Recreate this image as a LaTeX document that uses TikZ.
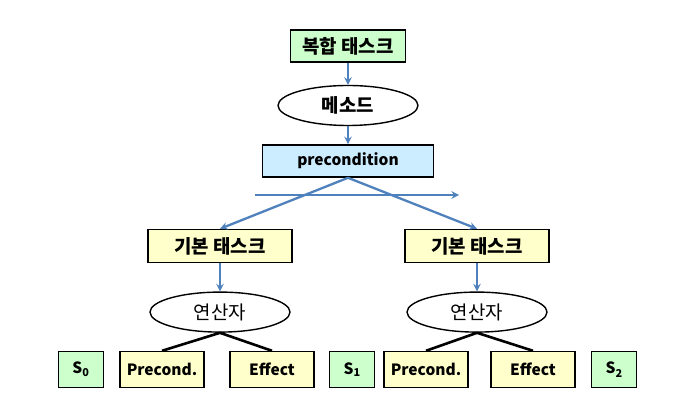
\documentclass[tikz,border=0pt]{standalone}
\usepackage{fontspec}
\setmainfont{Noto Sans CJK KR}
\newfontfamily\kor{Noto Sans CJK KR}[Scale=1.22]
\usepackage{tikz}
\usetikzlibrary{positioning}
\usetikzlibrary{shapes.geometric}
\definecolor{boxgreen}{HTML}{CCFFCC}
\definecolor{boxblue}{HTML}{CCECFF}
\definecolor{boxyellow}{HTML}{FFFFCC}
\definecolor{arrowblue}{HTML}{4F81BD}
\tikzset{%
  bluearrow/.style = {-stealth,draw=arrowblue,line width=2.3pt},
  blackline/.style = {draw=black,line width=2.6pt},
  gr/.style = {rectangle,draw,line width=1.6pt,fill=boxgreen,
        minimum height=32pt,font=\bfseries},
  bl/.style = {rectangle,draw,line width=1.6pt,fill=boxblue,
        minimum width=171pt,minimum height=32pt,font=\bfseries},
  yl/.style = {rectangle,draw,line width=1.6pt,fill=boxyellow,
        minimum width=144pt,minimum height=33pt,font=\bfseries},
  el/.style = {ellipse,draw,line width=1.4pt,fill=white,
        minimum width=140pt,minimum height=40pt},
  low/.style = {minimum width=84pt,minimum height=36pt},
  st/.style = {gr,minimum width=45pt,minimum height=36pt}
}
\begin{document}
\begin{tikzpicture}[inner sep=0pt]\fontsize{15.5}{18}\selectfont
  \useasboundingbox[fill=white] (0pt,0pt) rectangle (688pt,-419pt);
  \node[gr,minimum width=115pt] (comp) at (348pt,-46pt) {\kor 복합 태스크};
  \node[el,font=\bfseries] (meth) [below=22pt of comp] {\kor 메소드};
  \node[bl] (pre) [below=18pt of meth] {precondition};
  \node[yl] (prima) [below=51pt of pre,xshift=-128pt] {\kor 기본 태스크};
  \node[yl] (primb) [below=51pt of pre,xshift=129pt] {\kor 기본 태스크};
  \node[el] (opa) [below=28pt of prima] {\kor 연산자};
  \node[el] (opb) [below=28pt of primb] {\kor 연산자};

  \node[yl,low] (conda) [below=18pt of opa,xshift=-58pt] {Precond.};
  \node[yl,low] (effa) [below=18pt of opa,xshift=52pt] {Effect};
  \node[yl,low] (condb) [below=18pt of opb,xshift=-51pt] {Precond.};
  \node[yl,low] (effb) [below=18pt of opb,xshift=56pt] {Effect};
  \node[st] (s0) [left=15pt of conda] {S\textsubscript{0}};
  \node[st] (s1) [right=14pt of effa] {S\textsubscript{1}};
  \node[st] (s2) [right=15pt of effb] {S\textsubscript{2}};

  \coordinate (tl) at (255pt,-195pt);
  \coordinate (tr) at (459pt,-195pt);

  \draw[bluearrow] (comp) -- (meth);
  \draw[bluearrow] (meth) -- (pre);
  \draw[bluearrow] (tl) -- (tr);
  \draw[bluearrow] (pre.south) -- (prima.north);
  \draw[bluearrow] (pre.south) -- (primb.north);
  \draw[bluearrow] (prima) -- (opa);
  \draw[bluearrow] (primb) -- (opb);

  \draw[blackline] (opa.south) -- (conda.north);
  \draw[blackline] (opa.south) -- (effa.north);
  \draw[blackline] (opb.south) -- (condb.north);
  \draw[blackline] (opb.south) -- (effb.north);
\end{tikzpicture}
\end{document}
